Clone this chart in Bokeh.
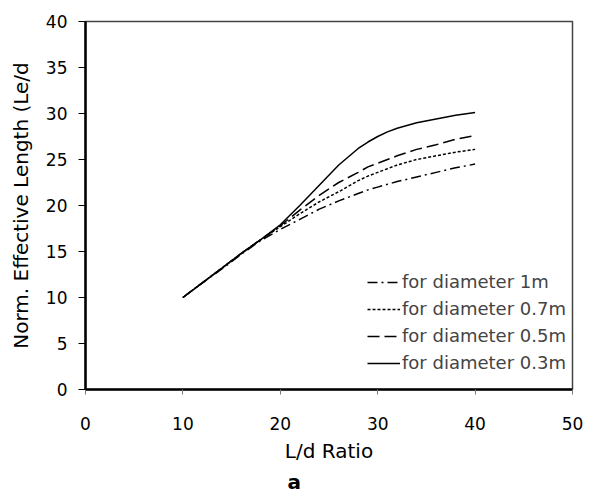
from bokeh.plotting import figure
from bokeh.models import Range1d, Legend, LegendItem, Title, FixedTicker
from bokeh.embed import file_html
from bokeh.resources import INLINE

x_vals = [10, 12, 14, 16, 18, 20, 22, 24, 26, 28, 29, 30, 31, 32, 34, 36, 38, 40]
d_1m  = [10, 11.6, 13.1, 14.7, 16.2, 17.4, 18.5, 19.6, 20.5, 21.3, 21.7, 22.0, 22.3, 22.6, 23.1, 23.6, 24.1, 24.5]
d_07m = [10, 11.6, 13.2, 14.8, 16.3, 17.7, 19.1, 20.4, 21.5, 22.7, 23.2, 23.6, 24.0, 24.4, 25.0, 25.4, 25.8, 26.1]
d_05m = [10, 11.6, 13.2, 14.8, 16.3, 17.8, 19.5, 21.1, 22.5, 23.6, 24.2, 24.6, 25.0, 25.4, 26.1, 26.6, 27.2, 27.6]
d_03m = [10, 11.6, 13.2, 14.8, 16.3, 17.9, 20.0, 22.2, 24.4, 26.2, 26.9, 27.5, 28.0, 28.4, 29.0, 29.4, 29.8, 30.1]

labels = ["for diameter 1m", "for diameter 0.7m", "for diameter 0.5m", "for diameter 0.3m"]
x_ticks = [0, 10, 20, 30, 40, 50]
y_ticks = [0, 5, 10, 15, 20, 25, 30, 35, 40]

FONT = "DejaVu Sans"

p = figure(width=589, height=495, output_backend="svg", toolbar_location=None,
           x_range=Range1d(0, 50), y_range=Range1d(0, 40),
           min_border_left=85, min_border_right=17, min_border_top=21, min_border_bottom=106)
p.xgrid.visible = False
p.ygrid.visible = False
p.outline_line_color = "#444444"
p.outline_line_width = 1.5
p.background_fill_color = "white"
p.border_fill_color = "white"

series = [d_1m, d_07m, d_05m, d_03m]
dashes = ["10 4 2 4", "3 2", "12 5", "solid"]
renderers = []
for ys, dash in zip(series, dashes):
    r = p.line(x_vals, ys, line_color="black", line_width=1.5, line_dash=dash)
    renderers.append(r)

legend = Legend(items=[LegendItem(label=l, renderers=[r]) for l, r in zip(labels, renderers)],
                location=(282, 16), padding=0, margin=0, spacing=6,
                glyph_width=33, glyph_height=20, label_height=20, label_standoff=2,
                label_text_font=FONT, label_text_font_size="18px",
                border_line_color=None, background_fill_alpha=0)
p.add_layout(legend, "center")

for ax in (p.xaxis[0], p.yaxis[0]):
    ax.axis_line_color = "black"
    ax.axis_line_width = 2.5
    ax.minor_tick_line_color = None
    ax.major_tick_in = 0
    ax.major_label_text_font = FONT
    ax.major_label_text_font_size = "17px"
    ax.major_label_text_color = "black"
    ax.axis_label_text_font = FONT
    ax.axis_label_text_font_size = "20px"
    ax.axis_label_text_font_style = "normal"
    ax.axis_label_text_color = "black"

p.xaxis.ticker = FixedTicker(ticks=x_ticks)
p.yaxis.ticker = FixedTicker(ticks=y_ticks)
p.xaxis.major_tick_out = 5
p.xaxis.major_tick_line_color = "#777777"
p.xaxis.major_label_standoff = 22
p.xaxis.axis_label = "L/d Ratio"
p.xaxis.axis_label_standoff = 6
p.yaxis.major_tick_out = 7
p.yaxis.major_tick_line_color = "black"
p.yaxis.major_label_standoff = 11
p.yaxis.axis_label = "Norm. Effective Length (Le/d"
p.yaxis.axis_label_standoff = 10

sub = Title(text="a", align="left", offset=202, text_font=FONT, text_font_size="20px",
            text_font_style="bold", text_color="black", standoff=4)
p.add_layout(sub, "below")

open("out.html", "w").write(file_html(p, INLINE))
